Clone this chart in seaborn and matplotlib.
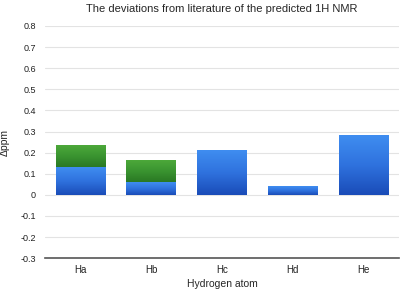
import numpy as np
import pandas as pd
import matplotlib
matplotlib.use("Agg")
import matplotlib.pyplot as plt
import seaborn as sns
from matplotlib.colors import LinearSegmentedColormap

categories = ["Ha", "Hb", "Hc", "Hd", "He"]
blue_part = [0.13, 0.06, 0.21, 0.04, 0.28]
green_part = [0.10, 0.10, 0.0, 0.0, 0.0]
yticks = [-0.3, -0.2, -0.1, 0, 0.1, 0.2, 0.3, 0.4, 0.5, 0.6, 0.7, 0.8]
ytick_labels = ["-0.3", "-0.2", "-0.1", "0", "0.1", "0.2", "0.3", "0.4", "0.5", "0.6", "0.7", "0.8"]

sns.set_style("white")
plt.rcParams['font.family'] = ['Liberation Sans', 'DejaVu Sans']

df = pd.DataFrame({"atom": categories, "blue": blue_part,
                   "total": [b + g for b, g in zip(blue_part, green_part)]})

fig = plt.figure(figsize=(4.0, 2.92), dpi=100)
ax = fig.add_axes([0.1125, 0.116, 0.885, 0.795])

sns.barplot(data=df, x="atom", y="total", color="#3a9a30", width=0.7, ax=ax,
            saturation=1, edgecolor="none")
n_total = len(ax.patches)
sns.barplot(data=df, x="atom", y="blue", color="#2f6fd8", width=0.7, ax=ax,
            saturation=1, edgecolor="none")

blue_cmap = LinearSegmentedColormap.from_list("b", ["#1a4cb8", "#2f72de", "#3f8df0"])
green_cmap = LinearSegmentedColormap.from_list("g", ["#2a7824", "#3a9430", "#4ca83a"])
grad = np.linspace(0, 1, 100).reshape(-1, 1)
for i, p in enumerate(list(ax.patches)):
    h = p.get_height()
    p.set_visible(False)
    if h <= 0:
        continue
    x0, y0 = p.get_x(), p.get_y()
    w = p.get_width()
    if i < n_total:
        ylo, yhi = blue_part[i], h
        cmap = green_cmap
        if yhi - ylo <= 1e-9:
            continue
    else:
        ylo, yhi = y0, y0 + h
        cmap = blue_cmap
    ax.imshow(grad, cmap=cmap, origin="lower", aspect="auto",
              extent=[x0, x0 + w, ylo, yhi], zorder=2)
ax.set_xlim(-0.5, 4.5)
ax.set_ylim(-0.3, 0.8)

ax.set_yticks(yticks)
ax.set_yticklabels(ytick_labels)
ax.yaxis.grid(True, color="#e3e3e3", linewidth=0.8)
ax.set_axisbelow(True)
for s in ["left", "right", "top"]:
    ax.spines[s].set_visible(False)
ax.spines["bottom"].set_color("#555555")
ax.spines["bottom"].set_linewidth(1.2)
ax.tick_params(axis="y", length=0, labelsize=6.5, colors="#222222", pad=6.5)
ax.tick_params(axis="x", length=0, labelsize=7, colors="#222222", pad=5)

ax.set_title("The deviations from literature of the predicted 1H NMR", fontsize=8, pad=10)
ax.set_xlabel("Hydrogen atom", fontsize=7.5, labelpad=3)
ax.set_ylabel("Δppm", fontsize=7.5, labelpad=8)

fig.savefig("out.png", dpi=100)
